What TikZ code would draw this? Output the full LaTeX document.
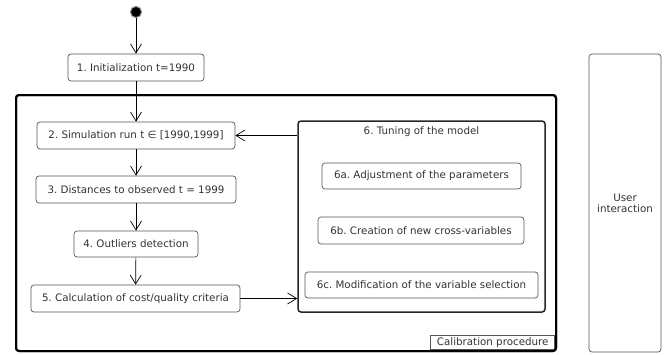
\documentclass[tikz,border=0pt]{standalone}
\usepackage{fontspec}
\setmainfont{DejaVu Sans}
\frenchspacing
\usetikzlibrary{arrows.meta}
\definecolor{txt}{HTML}{333333}
\definecolor{edge}{HTML}{555555}
\tikzset{
  act/.style={draw=edge, line width=0.7pt, rounded corners=3pt, fill=white,
    text=txt, font=\fontsize{10.3}{12}\selectfont\frenchspacing, inner sep=0pt, minimum height=27pt},
  flow/.style={draw=black, line width=0.7pt, -{Straight Barb[length=9pt,width=11pt,line width=0.7pt]}},
  bigframe/.style={draw=black, line width=2pt, rounded corners=3pt},
  tuneframe/.style={draw=black!85, line width=1.5pt, rounded corners=3pt},
  lbl/.style={text=txt, font=\fontsize{10.3}{12}\selectfont\frenchspacing}
}
\begin{document}
\begin{tikzpicture}[x=1pt,y=-1pt]
\useasboundingbox (0,0) rectangle (668,354);
% calibration frame
\draw[bigframe] (16,95) rectangle (556,351);
\node[draw=edge, line width=0.6pt, fill=white, anchor=south east, inner sep=0pt,
  minimum width=124pt, minimum height=14pt, text=txt, font=\fontsize{10.3}{12}\selectfont]
  (cal) at (555,350) {Calibration procedure};
\draw[bigframe] (16,95) rectangle (556,351);
% start
\node[circle, fill=black, draw=black!50, line width=1pt, minimum size=11pt, inner sep=0pt] (start) at (136,12) {};
% activities
\node[act, minimum width=136pt] (n1) at (136,67.5) {1. Initialization t=1990};
\node[act, minimum width=198pt] (n2) at (136,135.5) {2. Simulation run t ∈ [1990,1999]};
\node[act, minimum width=200pt] (n3) at (136,189.5) {3. Distances to observed t = 1999};
\node[act, minimum width=124pt, minimum height=26pt] (n4) at (136,244) {4. Outliers detection};
\node[act, minimum width=209pt] (n5) at (135.5,298.5) {5. Calculation of cost/quality criteria};
% tuning
\node[tuneframe, minimum width=247pt, minimum height=191pt, inner sep=0pt] (tune) at (421.5,216.5) {};
\node[lbl] (tunet) at (421.5,132) {6. Tuning of the model};
\node[act, minimum width=199pt, minimum height=26pt] (n6a) at (421.5,176) {6a. Adjustment of the parameters};
\node[act, minimum width=206pt] (n6b) at (421,230.5) {6b. Creation of new cross-variables};
\node[act, minimum width=233pt, minimum height=26pt] (n6c) at (421.5,285) {6c. Modification of the variable selection};
% user interaction
\node[act, minimum width=72pt, minimum height=298pt, align=center] (user) at (625,203)
  {User\\[-1pt]interaction};
% connectors
\draw[flow] (start) -- (n1);
\draw[flow] (n1) -- (n2);
\draw[flow] (n2) -- (n3);
\draw[flow] (n3) -- (n4);
\draw[flow] (n4) -- (n5);
\draw[flow] (n5.east) -- (tune.west |- n5.east);
\draw[flow] (tune.west |- n2.east) -- (n2.east);
\end{tikzpicture}
\end{document}
